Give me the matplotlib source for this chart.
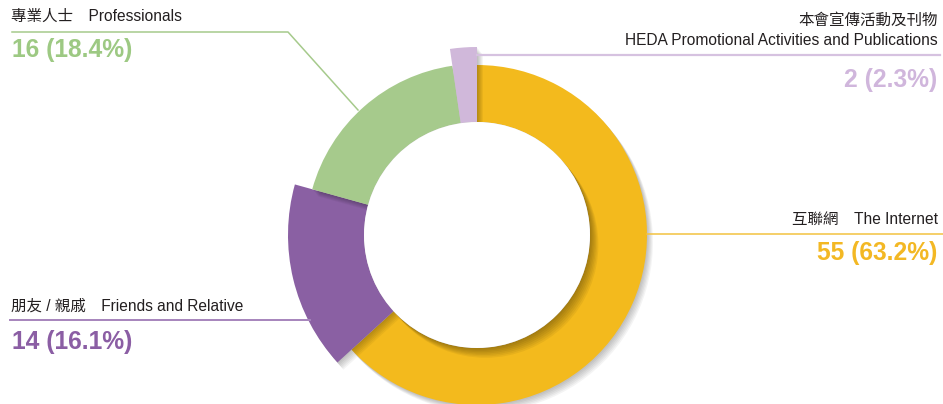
import matplotlib
matplotlib.use("Agg")
import matplotlib.pyplot as plt
from matplotlib.patches import Wedge, Circle

plt.rcParams['font.family'] = ['Liberation Sans', 'Noto Sans CJK TC', 'DejaVu Sans']

# data
labels_zh = ['互聯網', '朋友 / 親戚', '專業人士', '本會宣傳活動及刊物']
labels_en = ['The Internet', 'Friends and Relative', 'Professionals',
             'HEDA Promotional Activities and Publications']
counts = [55, 14, 16, 2]
percents = [63.2, 16.1, 18.4, 2.3]

# style
wedge_colors = ['#F3BA1D', '#8A60A3', '#A6CA8C', '#D0B8DA']
number_colors = ['#F3B824', '#8B5EA4', '#9DC983', '#D0B6DC']
outer_r = [170, 189, 171, 188]
inner_r = 113
W, H = 943, 404
cx, cy = 477, H - 235
text_col = '#231F20'

fig = plt.figure(figsize=(W / 100, H / 100), dpi=100)
ax = fig.add_axes([0, 0, 1, 1])
ax.set_xlim(0, W)
ax.set_ylim(0, H)
ax.axis('off')


def shadow(make, n=6, dx=1.0, dy=-1.2, alpha=0.045):
    for k in range(1, n + 1):
        p = make(k * dx, k * dy)
        p.set_facecolor('black')
        p.set_alpha(alpha)
        p.set_edgecolor('none')
        ax.add_patch(p)


total = sum(counts)
start = 90.0
for i, c in enumerate(counts):
    sweep = c / total * 360
    t1, t2 = start - sweep, start
    r = outer_r[i]
    shadow(lambda ox, oy: Wedge((cx + ox, cy + oy), r, t1, t2, width=r - inner_r))
    ax.add_patch(Wedge((cx, cy), r, t1, t2, width=r - inner_r,
                       facecolor=wedge_colors[i], edgecolor='none'))
    start = t1

# white centre with its own soft shadow
shadow(lambda ox, oy: Circle((cx + ox, cy + oy), inner_r), n=7, dx=1.2, dy=-1.4, alpha=0.05)
ax.add_patch(Circle((cx, cy), inner_r, facecolor='white', edgecolor='none'))

lw = 1.1
# leader lines
ax.plot([12, 288, 358], [H - 32, H - 32, H - 110], color='#A6CA8C', lw=lw)
ax.plot([477, 940], [H - 55, H - 55], color='#D6C2E0', lw=1.6)
ax.plot([647, W], [H - 234, H - 234], color='#F3C240', lw=lw)
ax.plot([10, 310], [H - 320, H - 320], color='#A684BC', lw=1.4)

fs_lab = 11.2
fs_num = 17.7

# Professionals (top left)
ax.text(11, H - 21, labels_zh[2] + '　' + labels_en[2], fontsize=fs_lab,
        color=text_col, ha='left', va='baseline')
ax.text(12, H - 57, f'{counts[2]} ({percents[2]}%)', fontsize=fs_num,
        fontweight='bold', color=number_colors[2], ha='left', va='baseline')

# HEDA (top right)
ax.text(938, H - 25, labels_zh[3], fontsize=fs_lab, color=text_col,
        ha='right', va='baseline')
ax.text(938, H - 45, labels_en[3], fontsize=fs_lab, color=text_col,
        ha='right', va='baseline')
ax.text(937, H - 87, f'{counts[3]} ({percents[3]}%)', fontsize=fs_num,
        fontweight='bold', color=number_colors[3], ha='right', va='baseline')

# Internet (right)
ax.text(938, H - 224, labels_zh[0] + '　' + labels_en[0], fontsize=fs_lab,
        color=text_col, ha='right', va='baseline')
ax.text(937, H - 260, f'{counts[0]} ({percents[0]}%)', fontsize=fs_num,
        fontweight='bold', color=number_colors[0], ha='right', va='baseline')

# Friends (left)
ax.text(11, H - 311, labels_zh[1] + '　' + labels_en[1], fontsize=fs_lab,
        color=text_col, ha='left', va='baseline')
ax.text(12, H - 349, f'{counts[1]} ({percents[1]}%)', fontsize=fs_num,
        fontweight='bold', color=number_colors[1], ha='left', va='baseline')

fig.savefig('out.png', dpi=100)
